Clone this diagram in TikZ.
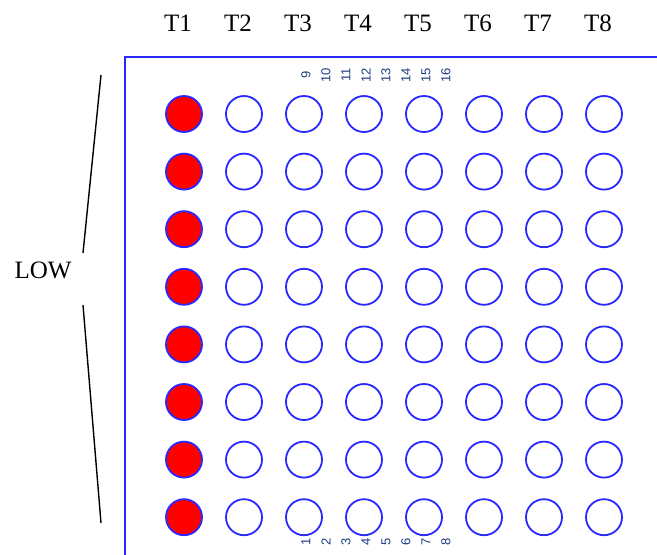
\documentclass[tikz,border=0pt]{standalone}
\usepackage{fontspec}
\setmainfont{Liberation Serif}
\setsansfont{Liberation Sans}
\usetikzlibrary{positioning}

\definecolor{ledblue}{RGB}{40,40,255}
\definecolor{numblue}{RGB}{30,60,130}

\tikzset{
  led/.style={circle,draw=ledblue,line width=1.8pt,minimum size=36pt,inner sep=0pt},
  ledon/.style={led,fill=red},
  collabel/.style={font=\fontsize{25}{27}\selectfont,inner sep=0pt},
  pinnum/.style={font=\sffamily\fontsize{13}{14}\selectfont,text=numblue,rotate=90,inner sep=0pt}
}

\begin{document}
\begin{tikzpicture}[x=1pt,y=-1pt]
      \useasboundingbox (0,0) rectangle (657,555);
      % frame
      \coordinate (frameTL) at (125,57);
      \draw[ledblue,line width=1.8pt] (125,555) -- (frameTL) -- (657,57);
      % column labels
      \foreach \i in {1,...,8}
        \node[collabel] (T\i) at ({178+60*(\i-1)},23) {T\i};
      % leds
      \foreach \r in {1,...,8} {
        \node[ledon] (c-\r-1) at (184,{114+57.6*(\r-1)}) {};
        \foreach \c in {2,...,8}
          \node[led] (c-\r-\c) at ({184+60*(\c-1)},{114+57.6*(\r-1)}) {};
      }
      % pin numbers
      \foreach \k [evaluate=\k as \t using int(\k+8)] in {1,...,8} {
        \node[pinnum] (pb\k) at ({306+20*(\k-1)},542) {\k};
        \node[pinnum] (pt\k) at ({306+20*(\k-1)},75) {\t};
      }
      % bracket
      \node[font=\fontsize{25}{27}\selectfont,inner sep=0pt] (low) at (43,270) {LOW};
      \coordinate (bt) at (101,75);
      \coordinate (bm1) at (83,253);
      \coordinate (bm2) at (83,305);
      \coordinate (bb) at (101,523);
      \draw[line width=1.4pt] (bt) -- (bm1);
      \draw[line width=1.4pt] (bm2) -- (bb);
\end{tikzpicture}
\end{document}
